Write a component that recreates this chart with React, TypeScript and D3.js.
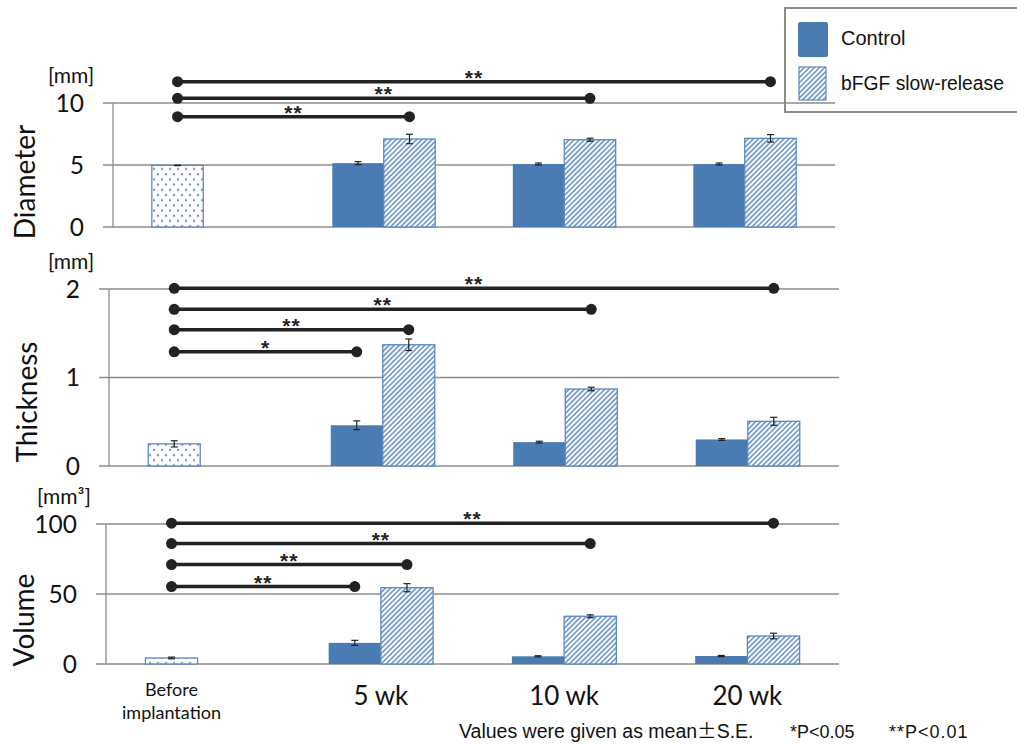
import * as d3 from 'd3'

// categories and legend
const categories = ['Before implantation', '5 wk', '10 wk', '20 wk']
const weeks = ['5 wk', '10 wk', '20 wk']
const seriesNames = ['Control', 'bFGF slow-release']

// "Before implantation" values: diameter, thickness, volume
const beforeMean = [4.97, 0.25, 4.3]
const beforeSE = [0.02, 0.035, 0.6]

const diameterControl = [5.15, 5.08, 5.08]
const diameterControlSE = [0.12, 0.08, 0.08]
const diameterBfgf = [7.1, 7.04, 7.15]
const diameterBfgfSE = [0.38, 0.12, 0.3]

const thicknessControl = [0.46, 0.27, 0.3]
const thicknessControlSE = [0.05, 0.01, 0.01]
const thicknessBfgf = [1.37, 0.87, 0.505]
const thicknessBfgfSE = [0.065, 0.02, 0.045]

const volumeControl = [15.1, 5.5, 5.7]
const volumeControlSE = [1.8, 0.4, 0.4]
const volumeBfgf = [54.5, 34.1, 20.0]
const volumeBfgfSE = [2.9, 1.0, 2.0]

// significance vs. "Before implantation": target week, target series (0 control, 1 bFGF), level in data units
const diameterSig = [
  { week: '20 wk', series: 1, level: 11.72, label: '**' },
  { week: '10 wk', series: 1, level: 10.38, label: '**' },
  { week: '5 wk', series: 1, level: 8.9, label: '**' },
]
const thicknessSig = [
  { week: '20 wk', series: 1, level: 2.008, label: '**' },
  { week: '10 wk', series: 1, level: 1.77, label: '**' },
  { week: '5 wk', series: 1, level: 1.54, label: '**' },
  { week: '5 wk', series: 0, level: 1.29, label: '*' },
]
const volumeSig = [
  { week: '20 wk', series: 1, level: 100.6, label: '**' },
  { week: '10 wk', series: 1, level: 86.0, label: '**' },
  { week: '5 wk', series: 1, level: 71.0, label: '**' },
  { week: '5 wk', series: 0, level: 55.3, label: '**' },
]

const BLUE = '#4a7cb3'
const EDGE = '#5b89c2'
const GRID = '#8c8c8c'
const INK = '#222'
const CAL = 'Lato, "Open Sans", sans-serif'
const ARIAL = '"Liberation Sans", Arial, sans-serif'
const CJK = '"Noto Sans CJK JP", sans-serif'

const panels = [
  {
    title: 'Diameter', unit: '[mm]', max: 10, ticks: [0, 5, 10], idx: 0,
    top: 103, bottom: 227, left: 113, right: 835,
    unitX: 71, unitY: 76, titleX: 35, titleY: 182,
    control: diameterControl, controlSE: diameterControlSE,
    bfgf: diameterBfgf, bfgfSE: diameterBfgfSE, sig: diameterSig,
  },
  {
    title: 'Thickness', unit: '[mm]', max: 2, ticks: [0, 1, 2], idx: 1,
    top: 289, bottom: 466, left: 109, right: 839,
    unitX: 71, unitY: 262, titleX: 37, titleY: 402,
    control: thicknessControl, controlSE: thicknessControlSE,
    bfgf: thicknessBfgf, bfgfSE: thicknessBfgfSE, sig: thicknessSig,
  },
  {
    title: 'Volume', unit: '[mm³]', max: 100, ticks: [0, 50, 100], idx: 2,
    top: 524, bottom: 664, left: 106, right: 839,
    unitX: 64, unitY: 497, titleX: 34, titleY: 620,
    control: volumeControl, controlSE: volumeControlSE,
    bfgf: volumeBfgf, bfgfSE: volumeBfgfSE, sig: volumeSig,
  },
]

function ErrorBar({ x, y0, y1 }: { x: number; y0: number; y1: number }) {
  return (
    <g stroke={INK} strokeWidth={1.2}>
      <line x1={x} x2={x} y1={y0} y2={y1} />
      <line x1={x - 3.5} x2={x + 3.5} y1={y0} y2={y0} />
      <line x1={x - 3.5} x2={x + 3.5} y1={y1} y2={y1} />
    </g>
  )
}

function Panel({ p, last }: { p: any; last: boolean }) {
  const x = d3.scaleBand().domain(categories).range([p.left, p.right]).padding(0)
  const y = d3.scaleLinear().domain([0, p.max]).range([p.bottom, p.top])
  const barW = x.bandwidth() * 0.285
  const center = (c: string) => (x(c) as number) + x.bandwidth() / 2
  const beforeX = center(categories[0]) - barW
  const beforeCx = beforeX + barW / 2
  const barCx = (week: string, s: number) => center(week) - barW + s * barW + barW / 2

  return (
    <g>
      {/* gridlines */}
      {p.ticks.map((t: number) => (
        <line key={t} x1={p.left - 10} x2={p.right} y1={y(t)} y2={y(t)} stroke={GRID} strokeWidth={1.3} />
      ))}
      <line x1={p.left} x2={p.left} y1={p.top} y2={p.bottom} stroke={GRID} strokeWidth={1.3} />
      {p.ticks.map((t: number) => (
        <text key={'t' + t} x={p.left - 29} y={y(t)} dy="0.36em" textAnchor="end"
          fontFamily={CAL} fontSize={24.5} fill="#111">{t}</text>
      ))}
      <text x={p.unitX} y={p.unitY} dy="0.33em" textAnchor="middle" fontFamily={CAL} fontSize={21} fill="#111">{p.unit}</text>
      <text transform={`translate(${p.titleX},${p.titleY}) rotate(-90)`} textAnchor="middle"
        fontFamily={CAL} fontSize={28} fill="#111">{p.title}</text>

      {/* before implantation */}
      <rect x={beforeX} y={y(beforeMean[p.idx])} width={barW} height={p.bottom - y(beforeMean[p.idx])}
        fill="url(#dots)" stroke={EDGE} strokeWidth={1.3} />
      <ErrorBar x={beforeCx} y0={y(beforeMean[p.idx] + beforeSE[p.idx])} y1={y(beforeMean[p.idx] - beforeSE[p.idx])} />

      {weeks.map((w, i) => (
        <g key={w}>
          <rect x={center(w) - barW} y={y(p.control[i])} width={barW} height={p.bottom - y(p.control[i])} fill={BLUE} />
          <rect x={center(w)} y={y(p.bfgf[i])} width={barW} height={p.bottom - y(p.bfgf[i])}
            fill="url(#hatch)" stroke={EDGE} strokeWidth={1.3} />
          <ErrorBar x={barCx(w, 0)} y0={y(p.control[i] + p.controlSE[i])} y1={y(p.control[i] - p.controlSE[i])} />
          <ErrorBar x={barCx(w, 1)} y0={y(p.bfgf[i] + p.bfgfSE[i])} y1={y(p.bfgf[i] - p.bfgfSE[i])} />
        </g>
      ))}

      {/* significance */}
      {p.sig.map((s: any, i: number) => {
        const x2 = barCx(s.week, s.series)
        const yy = y(s.level)
        return (
          <g key={i}>
            <line x1={beforeCx} x2={x2} y1={yy} y2={yy} stroke={INK} strokeWidth={3.5} />
            <circle cx={beforeCx} cy={yy} r={5.5} fill={INK} />
            <circle cx={x2} cy={yy} r={5.5} fill={INK} />
            <text x={(beforeCx + x2) / 2} y={yy + 3} textAnchor="middle" fontFamily={ARIAL}
              fontSize={21} fontWeight="bold" letterSpacing={1} fill={INK}>{s.label}</text>
          </g>
        )
      })}

      {last && (
        <g>
          <text x={beforeCx} y={696} textAnchor="middle" fontFamily={CAL} fontSize={18} fill="#111">Before</text>
          <text x={beforeCx} y={719} textAnchor="middle" fontFamily={CAL} fontSize={18} fill="#111">implantation</text>
          {weeks.map((w) => (
            <text key={w} x={center(w)} y={705} textAnchor="middle" fontFamily={CAL} fontSize={26} fill="#111">{w}</text>
          ))}
        </g>
      )}
    </g>
  )
}

export default function App() {
  return (
    <svg width={1017} height={744} style={{ position: 'absolute', left: 0, top: 0, background: '#fff' }}>
      <defs>
        <pattern id="hatch" patternUnits="userSpaceOnUse" width={3.6} height={3.6} patternTransform="rotate(45)">
          <rect width={3.6} height={3.6} fill="#fff" />
          <line x1={0.9} x2={0.9} y1={0} y2={3.6} stroke="#7a9fcf" strokeWidth={1.8} />
        </pattern>
        <pattern id="dots" patternUnits="userSpaceOnUse" width={8} height={10.4}>
          <rect width={8} height={10.4} fill="#fff" />
          <circle cx={2} cy={2.6} r={1.15} fill="#6f95c8" />
          <circle cx={6} cy={7.8} r={1.15} fill="#6f95c8" />
        </pattern>
      </defs>

      {/* legend */}
      <rect x={785} y={8} width={250} height={104} fill="#fff" stroke="#808080" strokeWidth={1.8} />
      <rect x={798} y={22} width={30} height={35} rx={2} fill={BLUE} />
      <text x={841} y={45} fontFamily={ARIAL} fontSize={20} fill="#111">{seriesNames[0]}</text>
      <rect x={799} y={67} width={27} height={33} fill="url(#hatch)" stroke={EDGE} strokeWidth={1.2} />
      <text x={841} y={90} fontFamily={ARIAL} fontSize={19.3} fill="#111">{seriesNames[1]}</text>

      {panels.map((p, i) => (
        <Panel key={p.title} p={p} last={i === panels.length - 1} />
      ))}

      <text x={459} y={738} fontFamily={ARIAL} fontSize={19.5} fill="#111">
        Values were given as mean<tspan fontFamily={CJK}>±</tspan>S.E.
      </text>
      <text x={790} y={738} fontFamily={ARIAL} fontSize={18} fill="#111">*P&lt;0.05</text>
      <text x={889} y={738} fontFamily={ARIAL} fontSize={18} letterSpacing={1} fill="#111">**P&lt;0.01</text>
    </svg>
  )
}
